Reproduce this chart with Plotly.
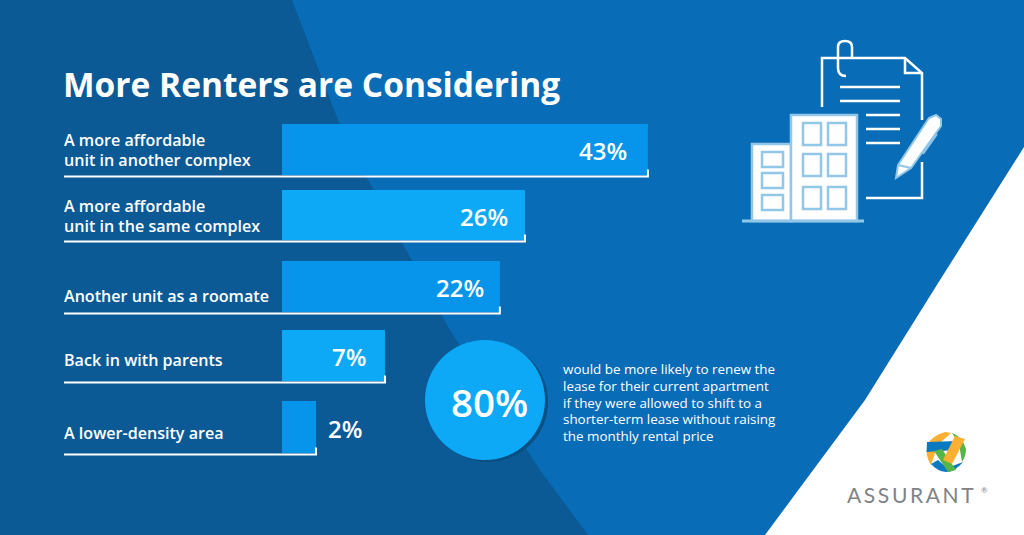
import plotly.graph_objects as go

# ---- data ----
categories = ["A more affordable\nunit in another complex",
              "A more affordable\nunit in the same complex",
              "Another unit as a roomate",
              "Back in with parents",
              "A lower-density area"]
percent_labels = ["43%", "26%", "22%", "7%", "2%"]
# drawn bar lengths as seen in the picture, in units of the 43% bar's scale
drawn_lengths = [43.0, 28.55, 25.6, 12.1, 4.0]
title_text = "More Renters are Considering"
callout_value = "80%"
callout_lines = ["would be more likely to renew the",
                 "lease for their current apartment",
                 "if they were allowed to shift to a",
                 "shorter-term lease without raising",
                 "the monthly rental price"]

# ---- layout / style ----
W, H = 1024, 535
BAR_X0 = 282
PX_PER_UNIT = 8.51
bar_tops = [124, 190, 261, 330, 401]
bar_bots = [175, 240, 312, 381, 453]
bar_cols = ["#0695ea", "#0da9f6", "#0695ea", "#0da9f6", "#0695ea"]
label_ys = [(140, 160), (206, 226), (296,), (360,), (433,)]
pct_offset = [-21, -17, -16, -19, 12]
pct_ys = [150, 216, 287, 356, 428]
FONT = "Open Sans"
DARK, LIGHT = "#0b5a96", "#096cb7"

fig = go.Figure()
centers = [(a + b) / 2 for a, b in zip(bar_tops, bar_bots)]
heights = [b - a for a, b in zip(bar_tops, bar_bots)]
fig.add_trace(go.Bar(x=drawn_lengths, y=centers, width=heights, orientation="h",
                     marker=dict(color=bar_cols, line=dict(width=0)),
                     hoverinfo="skip", showlegend=False))

shapes, annos = [], []

def pth(d, fill=None, line=None, lw=0, layer="above"):
    shapes.append(dict(type="path", path=d, xref="x2", yref="y2", layer=layer,
                       fillcolor=fill or "rgba(0,0,0,0)",
                       line=dict(color=line or "rgba(0,0,0,0)", width=lw)))

def poly(pts, **k):
    pth("M" + " L".join(f"{x},{y}" for x, y in pts) + " Z", **k)

def rect(x0, y0, x1, y1, fill, line, lw):
    shapes.append(dict(type="rect", x0=x0, y0=y0, x1=x1, y1=y1, xref="x2", yref="y2",
                       layer="above", fillcolor=fill, line=dict(color=line, width=lw)))

def circ(cx, cy, r, fill, layer="above"):
    shapes.append(dict(type="circle", x0=cx - r, x1=cx + r, y0=cy - r, y1=cy + r,
                       xref="x2", yref="y2", layer=layer, fillcolor=fill, line=dict(width=0)))

def txt(x, y, s, size, color="white", anchor="left", weight=400, xshift=0, font=FONT, xref="x2"):
    annos.append(dict(x=x, y=y, xref=xref, yref="y2", text=s, showarrow=False,
                      xanchor=anchor, yanchor="middle", xshift=xshift, borderpad=0, borderwidth=0,
                      font=dict(family=font, size=size, color=color, weight=weight)))

# background
poly([(292, 0), (315, 60), (338, 120), (367, 178), (450, 330), (540, 470), (588, 535), (W, 535), (W, 0)],
     fill=LIGHT, layer="below")
poly([(W, 147), (940, 280), (865, 400), (765, 535), (W, 535)], fill="white", layer="below")

# baselines with end ticks, derived from the data
for n, (ln, bot) in enumerate(zip(drawn_lengths, bar_bots)):
    end = ln
    y = bot + 1.5
    shapes.append(dict(type="path", xref="x", yref="y", layer="above",
                       path=f"M{-218 / PX_PER_UNIT},{y} L{end},{y} L{end},{y - 7}",
                       line=dict(color="white", width=2), fillcolor="rgba(0,0,0,0)"))

# title and labels
txt(63, 83.5, title_text, 33.5, weight=700)
for cat, ys in zip(categories, label_ys):
    for line, y in zip(cat.split("\n"), ys):
        txt(64, y, line, 16.1, weight=600)
for ln, lab, off, y in zip(drawn_lengths, percent_labels, pct_offset, pct_ys):
    txt(ln, y, lab, 24, anchor="right" if off < 0 else "left", weight=600, xshift=off, xref="x")

# callout
circ(488, 402, 60, "#0a4f82")
circ(485, 400, 60, "#0da9f6")
txt(489, 402, callout_value, 38.5, anchor="center", weight=600)
for line, y in zip(callout_lines, [369, 386, 402.5, 419, 436]):
    txt(563, y, line, 13.4)

# document icon
W_ = "white"
pth("M822,107 L822,58 L905,58 L922,73 L922,120", line=W_, lw=2.5)
pth("M905,58 L905,73 L922,73", line=W_, lw=2.5)
pth("M922,162 L922,198 L866,198", line=W_, lw=2.5)
pth("M846,76 Q838,76 838,68 L838,47 Q838,41 845,41 Q852,41 852,47 L852,58", line=W_, lw=2.5)
for y, x0 in [(87, 840), (101, 840), (115, 866), (129, 866), (143, 866)]:
    pth(f"M{x0},{y} L900,{y}", line=W_, lw=2.5)
PALE = "#92c7e8"
rect(752, 144, 791, 221, "white", PALE, 2.5)
rect(791, 115, 857, 221, "white", PALE, 2.5)
for x0, x1 in [(803, 821), (828, 846)]:
    for y0, y1 in [(123, 145), (154, 176), (187, 209)]:
        rect(x0, y0, x1, y1, "white", PALE, 2.5)
for y0, y1 in [(152, 167), (173, 188), (195, 210)]:
    rect(762, y0, 783, y1, "white", PALE, 2.5)
pth("M742,221 L864,221", line=PALE, lw=3)
poly([(896, 178), (898, 165), (929, 118), (936, 115), (941, 119), (941, 126), (911, 168)],
     fill="white", line=PALE, lw=2)
pth("M898,165 L911,168", line=PALE, lw=2)
pth("M937,134 L923,154", line=PALE, lw=2)

# logo: ring of interwoven bands
ORANGE, GREEN, BLUE = "#fbb034", "#55b648", "#0b78c2"
circ(946, 452, 20, "white")
pth("M927.5,445 Q931,436 945,432 L951,433 L941,442 Z", fill=ORANGE)
pth("M926.5,451 L936,450 L931,465 Q927,459 926.5,451 Z", fill=ORANGE)
pth("M952,433 Q962,436 966,449 Q966,456 962,462 L959,444 Z", fill=GREEN)
pth("M931,464 L938,460 L947,468 L963,462 Q955,472 946,472 Q937,471 931,464 Z", fill=BLUE)
pth("M927,442 L958,441 L955,450 L926.5,452 Z", fill=BLUE)
poly([(934, 451), (942, 449), (956, 470), (948, 472)], fill=GREEN)
poly([(955, 436), (965, 439), (952, 464), (943, 460)], fill=ORANGE)
brand = "\u2009".join("ASSURANT")
txt(847, 494, brand, 21, color="#808285", font="Lato")
txt(981, 490, "®", 8, color="#808285", font="Lato")

fig.update_layout(
    width=W, height=H, margin=dict(l=0, r=0, t=0, b=0), paper_bgcolor=DARK, plot_bgcolor="rgba(0,0,0,0)",
    shapes=shapes, annotations=annos, showlegend=False,
    xaxis=dict(range=[-BAR_X0 / PX_PER_UNIT, (W - BAR_X0) / PX_PER_UNIT], domain=[0, 1], visible=False, fixedrange=True),
    yaxis=dict(range=[H, 0], domain=[0, 1], visible=False, fixedrange=True),
    xaxis2=dict(range=[0, W], overlaying="x", side="top", visible=False, fixedrange=True),
    yaxis2=dict(range=[H, 0], overlaying="y", side="right", visible=False, fixedrange=True),
)
fig.add_trace(go.Scatter(x=[None], y=[None], xaxis="x2", yaxis="y2", hoverinfo="skip", showlegend=False))
fig.write_html("out.html", config=dict(displayModeBar=False),
               post_script="document.body.style.margin='0';document.documentElement.style.overflow='hidden';")
